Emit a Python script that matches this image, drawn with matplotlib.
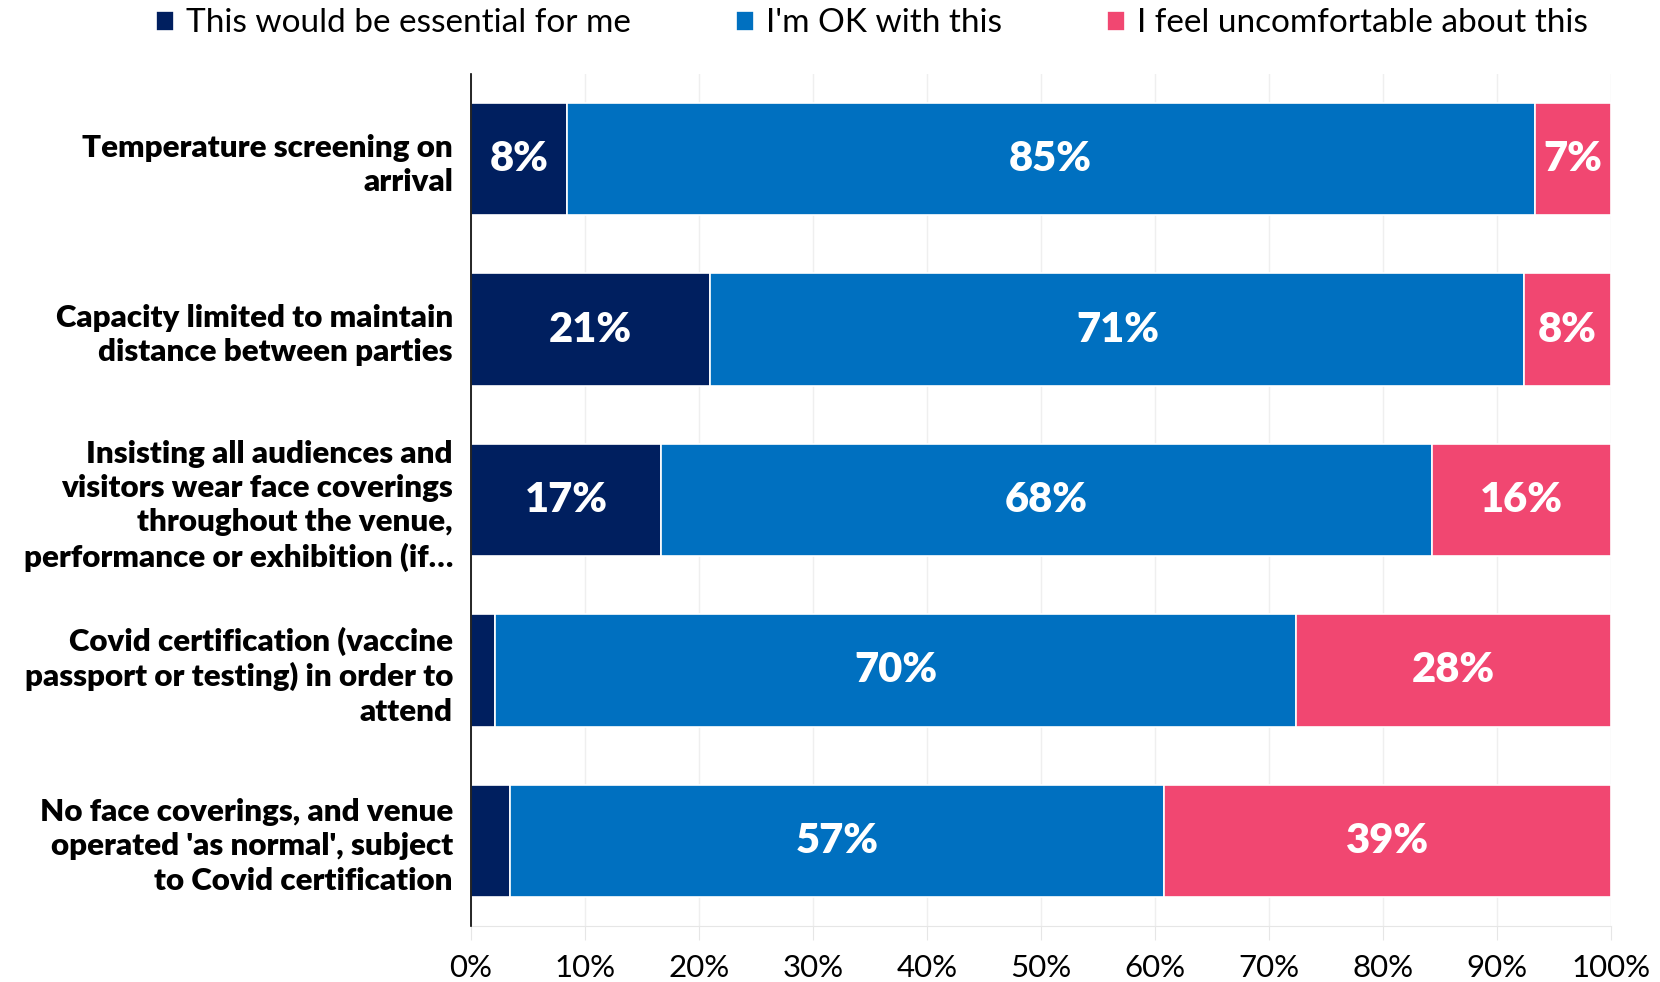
import numpy as np
import matplotlib.pyplot as plt

plt.rcParams['font.family'] = ['Lato', 'DejaVu Sans']

categories = ["Temperature screening on\narrival",
              "Capacity limited to maintain\ndistance between parties",
              "Insisting all audiences and\nvisitors wear face coverings\nthroughout the venue,\nperformance or exhibition (if…",
              "Covid certification (vaccine\npassport or testing) in order to\nattend",
              "No face coverings, and venue\noperated 'as normal', subject\nto Covid certification"]
essential = [8.4, 21.0, 16.7, 2.1, 3.4]
ok = [84.9, 71.4, 67.6, 70.3, 57.4]
uncomfortable = [6.7, 7.6, 15.7, 27.6, 39.2]
series_names = ["This would be essential for me", "I'm OK with this", "I feel uncomfortable about this"]
colors = ["#001F5F", "#0070C0", "#F14771"]

fig = plt.figure(figsize=(16.6, 9.82), dpi=100)
ax = fig.add_axes([471/1660, 1-926/982, (1611-471)/1660, (926-74)/982])

y = np.arange(len(categories))
left = np.zeros(len(categories))
for vals, name, col in zip([essential, ok, uncomfortable], series_names, colors):
    vals = np.array(vals)
    ax.barh(y, vals, left=left, height=0.66, color=col, edgecolor='white',
            linewidth=1.2, label=name, zorder=3)
    for yi, l, v in zip(y, left, vals):
        if v >= 5:
            ax.text(l + v/2, yi, f"{round(v):.0f}%", ha='center', va='center',
                    color='white', fontsize=30, fontweight='heavy', zorder=4)
    left += vals

ax.set_xlim(0, 100)
ax.set_ylim(4.5, -0.5)
ax.set_xticks(np.arange(0, 101, 10))
ax.set_xticklabels([f"{t}%" for t in range(0, 101, 10)], fontsize=22.5)
ax.set_yticks(y)
ax.set_yticklabels(categories, fontsize=22.5, fontweight='heavy', linespacing=1.27)
ax.tick_params(axis='y', length=0, pad=13)
ax.tick_params(axis='x', length=10, color='#E6E6E6', pad=10)
ax.grid(axis='x', color='#EFEFEF', linewidth=1, zorder=0)
for s in ['top', 'right']:
    ax.spines[s].set_visible(False)
ax.spines['bottom'].set_color('#E6E6E6')
ax.spines['left'].set_color('black')
ax.spines['left'].set_linewidth(1.2)
ax.spines['left'].set_zorder(5)

fig.legend(loc='upper center', bbox_to_anchor=(0.525, 1.022), ncol=3, frameon=False,
           fontsize=24, handlelength=0.55, handleheight=0.55, handletextpad=0.35,
           columnspacing=3.15)

fig.savefig("out.png", dpi=100)
